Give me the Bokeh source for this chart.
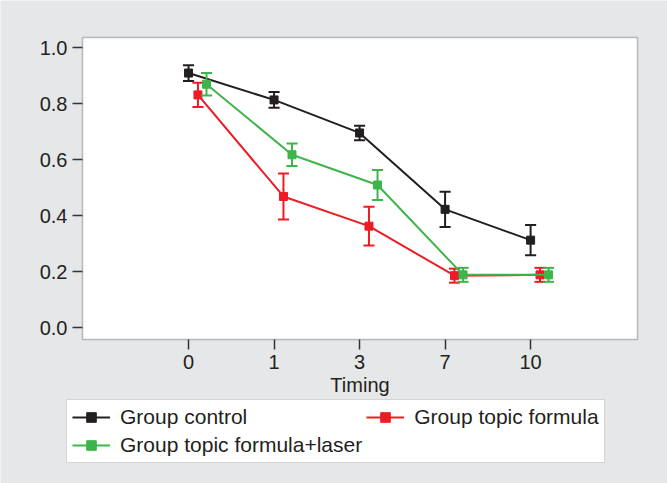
from bokeh.plotting import figure
from bokeh.models import (Range1d, FixedTicker, ColumnDataSource, Legend, LegendItem,
                          PrintfTickFormatter, BoxAnnotation)
from bokeh.embed import file_html
from bokeh.resources import INLINE

# ---- data ----
timing = ["0", "1", "3", "7", "10"]
control_mean = [0.910, 0.814, 0.696, 0.423, 0.313]
control_err = [0.028, 0.028, 0.026, 0.063, 0.054]
formula_mean = [0.832, 0.469, 0.363, 0.186, 0.189]
formula_err = [0.043, 0.082, 0.069, 0.025, 0.025]
laser_mean = [0.870, 0.618, 0.510, 0.189, 0.189]
laser_err = [0.040, 0.040, 0.054, 0.025, 0.025]
y_ticks = [0.0, 0.2, 0.4, 0.6, 0.8, 1.0]

series = [
    ("Group control", control_mean, control_err, "#231f20", 0.0),
    ("Group topic formula", formula_mean, formula_err, "#ed1c24", 0.11),
    ("Group topic formula+laser", laser_mean, laser_err, "#3db54a", 0.21),
]
legend_order = [0, 2, 1]  # legend fills column by column

# ---- layout / style ----
FONT = "Liberation Sans"
BG = "#e6e7e8"
CAP = 0.065
W, H = 667, 483
# plot box (data limits) and its pixel placement in the canvas
X_LO, X_HI, Y_LO, Y_HI = -1.24, 5.25, -0.042, 1.037
BOX_L, BOX_R, BOX_T, BOX_B = 82, 637, 37, 339
sx = (BOX_R - BOX_L) / (X_HI - X_LO)
sy = (BOX_B - BOX_T) / (Y_HI - Y_LO)
x_range = Range1d(X_LO - BOX_L / sx, X_HI + (W - BOX_R) / sx)
y_range = Range1d(Y_LO - (H - BOX_B) / sy, Y_HI + BOX_T / sy)

p = figure(width=W, height=H, min_border=0,
           x_range=x_range, y_range=y_range,
           output_backend="svg", toolbar_location=None,
           background_fill_color=BG, border_fill_color=BG)
p.outline_line_color = None
p.xgrid.visible = False
p.ygrid.visible = False

box = BoxAnnotation(left=X_LO, right=X_HI, bottom=Y_LO, top=Y_HI,
                    fill_color="white", fill_alpha=1.0,
                    line_color="#333333", line_width=1.5, level="underlay")
p.add_layout(box)

for ax in (p.xaxis[0], p.yaxis[0]):
    ax.axis_line_color = None
    ax.major_tick_line_color = "#333333"
    ax.major_tick_line_width = 1.5
    ax.major_tick_in = 0
    ax.major_tick_out = 10
    ax.minor_tick_line_color = None
    ax.major_label_text_font = FONT
    ax.major_label_text_font_size = "20px"
    ax.major_label_text_color = "#231f20"

p.xaxis.fixed_location = Y_LO
p.xaxis.bounds = (X_LO, X_HI)
p.xaxis.ticker = FixedTicker(ticks=list(range(len(timing))))
p.xaxis.major_label_overrides = {i: t for i, t in enumerate(timing)}
p.xaxis.major_label_standoff = 5
p.xaxis.axis_label = "Timing"
p.xaxis.axis_label_text_font = FONT
p.xaxis.axis_label_text_font_size = "20px"
p.xaxis.axis_label_text_font_style = "normal"
p.xaxis.axis_label_text_color = "#231f20"
p.xaxis.axis_label_standoff = 2

p.yaxis.fixed_location = X_LO
p.yaxis.bounds = (Y_LO, Y_HI)
p.yaxis.ticker = FixedTicker(ticks=y_ticks)
p.yaxis.formatter = PrintfTickFormatter(format="%.1f")
p.yaxis.major_label_standoff = 5

renderers = []
for name, mean, err, color, off in series:
    xs = [i + off for i in range(len(timing))]
    src = ColumnDataSource(dict(
        x=xs, y=mean,
        lo=[m - e for m, e in zip(mean, err)],
        hi=[m + e for m, e in zip(mean, err)],
        xl=[x - CAP for x in xs], xr=[x + CAP for x in xs],
    ))
    line_r = p.line("x", "y", source=src, line_color=color, line_width=2)
    p.segment(x0="x", y0="lo", x1="x", y1="hi", source=src, line_color=color, line_width=2)
    p.segment(x0="xl", y0="lo", x1="xr", y1="lo", source=src, line_color=color, line_width=2)
    p.segment(x0="xl", y0="hi", x1="xr", y1="hi", source=src, line_color=color, line_width=2)
    mark_r = p.scatter("x", "y", source=src, marker="square", size=8,
                       fill_color=color, line_color=color)
    renderers.append((name, [line_r, mark_r]))

items = [LegendItem(label=renderers[k][0], renderers=renderers[k][1]) for k in legend_order]
legend = Legend(items=items, ncols=2, location=(66, 20),
                label_text_font=FONT, label_text_font_size="21px", label_text_color="#231f20",
                glyph_width=38, glyph_height=24, label_height=24, label_standoff=10,
                padding=5, spacing=4, margin=0,
                border_line_color="#aaaaaa", border_line_width=1.2,
                background_fill_color="white", background_fill_alpha=1.0)
p.add_layout(legend, "center")

open("out.html", "w").write(file_html(p, INLINE))
